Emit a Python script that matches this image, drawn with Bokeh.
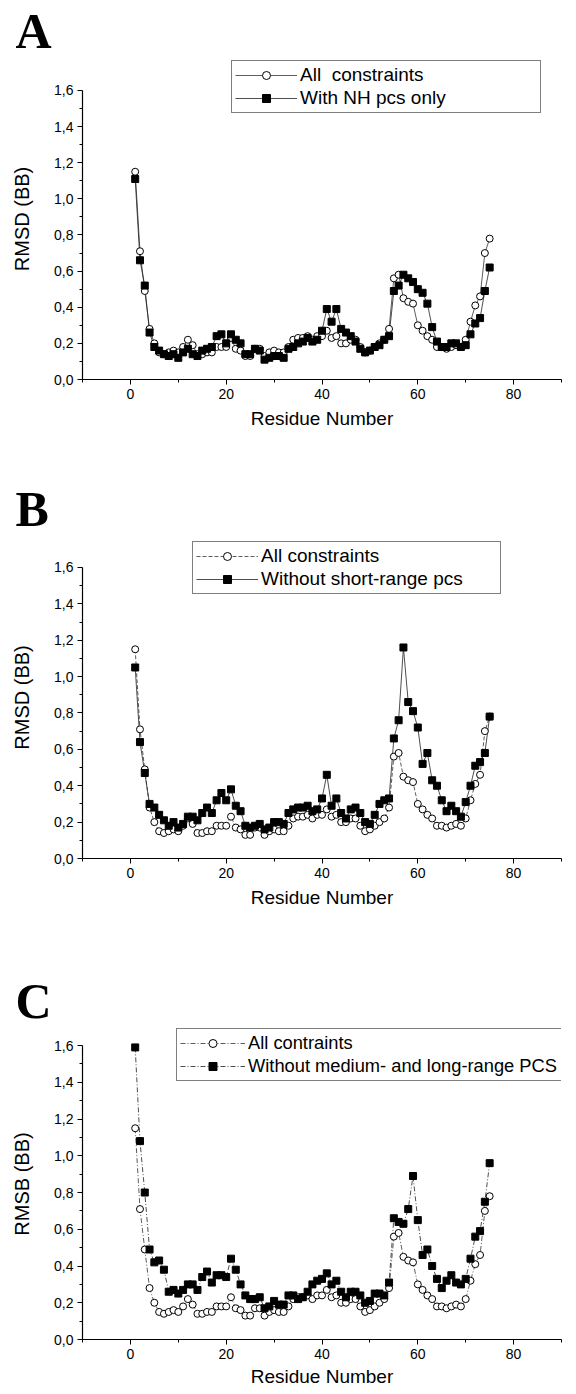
from bokeh.plotting import figure
from bokeh.models import (Range1d, FixedTicker, CustomJSTickFormatter, Legend,
                          LegendItem, Title, ColumnDataSource)
from bokeh.layouts import column
from bokeh.embed import file_html
from bokeh.resources import INLINE

# ---------------- data ----------------
residues = list(range(1, 76))

all_constraints = [
    1.15, 0.71, 0.49, 0.28, 0.20, 0.15, 0.14, 0.15, 0.16, 0.15,
    0.18, 0.22, 0.19, 0.14, 0.14, 0.15, 0.15, 0.18, 0.18, 0.18,
    0.23, 0.17, 0.16, 0.13, 0.13, 0.17, 0.17, 0.13, 0.15, 0.16,
    0.15, 0.15, 0.18, 0.22, 0.23, 0.23, 0.24, 0.22, 0.24, 0.24,
    0.27, 0.23, 0.24, 0.20, 0.20, 0.22, 0.22, 0.18, 0.15, 0.16,
    0.18, 0.20, 0.22, 0.28, 0.56, 0.58, 0.45, 0.43, 0.42, 0.30,
    0.27, 0.24, 0.22, 0.18, 0.18, 0.17, 0.18, 0.19, 0.18, 0.22,
    0.32, 0.41, 0.46, 0.70, 0.78]

nh_pcs_only = [
    1.11, 0.66, 0.52, 0.26, 0.18, 0.16, 0.14, 0.13, 0.14, 0.12,
    0.15, 0.17, 0.14, 0.13, 0.16, 0.17, 0.18, 0.24, 0.25, 0.20,
    0.25, 0.22, 0.20, 0.14, 0.14, 0.17, 0.16, 0.11, 0.12, 0.13,
    0.13, 0.12, 0.17, 0.18, 0.20, 0.21, 0.23, 0.21, 0.22, 0.27,
    0.39, 0.32, 0.39, 0.28, 0.26, 0.24, 0.21, 0.17, 0.15, 0.16,
    0.18, 0.19, 0.22, 0.24, 0.49, 0.52, 0.58, 0.56, 0.54, 0.50,
    0.48, 0.42, 0.29, 0.21, 0.18, 0.18, 0.20, 0.20, 0.18, 0.19,
    0.25, 0.31, 0.34, 0.49, 0.62]

without_short_range = [
    1.05, 0.64, 0.47, 0.30, 0.28, 0.24, 0.21, 0.18, 0.20, 0.17,
    0.19, 0.23, 0.23, 0.21, 0.25, 0.28, 0.25, 0.32, 0.36, 0.32,
    0.38, 0.29, 0.26, 0.18, 0.17, 0.18, 0.19, 0.16, 0.17, 0.20,
    0.20, 0.19, 0.25, 0.27, 0.28, 0.28, 0.29, 0.26, 0.27, 0.33,
    0.46, 0.29, 0.33, 0.25, 0.22, 0.27, 0.28, 0.25, 0.20, 0.19,
    0.24, 0.30, 0.32, 0.33, 0.66, 0.76, 1.16, 0.86, 0.81, 0.72,
    0.52, 0.58, 0.43, 0.40, 0.32, 0.26, 0.29, 0.26, 0.23, 0.31,
    0.40, 0.51, 0.53, 0.58, 0.78]

without_medium_long = [
    1.59, 1.08, 0.80, 0.49, 0.42, 0.43, 0.38, 0.26, 0.27, 0.25,
    0.27, 0.30, 0.30, 0.27, 0.34, 0.37, 0.31, 0.35, 0.35, 0.34,
    0.44, 0.38, 0.30, 0.24, 0.22, 0.22, 0.23, 0.17, 0.18, 0.21,
    0.19, 0.19, 0.24, 0.24, 0.22, 0.23, 0.26, 0.30, 0.32, 0.33,
    0.36, 0.30, 0.32, 0.26, 0.23, 0.26, 0.26, 0.24, 0.20, 0.21,
    0.25, 0.25, 0.24, 0.31, 0.66, 0.64, 0.63, 0.71, 0.89, 0.65,
    0.46, 0.49, 0.40, 0.33, 0.28, 0.32, 0.35, 0.31, 0.30, 0.33,
    0.44, 0.56, 0.59, 0.75, 0.96]

x_ticks = [0, 20, 40, 60, 80]
x_minor_ticks = [-10, 10, 30, 50, 70, 90]
y_ticks = [0.0, 0.2, 0.4, 0.6, 0.8, 1.0, 1.2, 1.4, 1.6]
y_minor_ticks = [0.1, 0.3, 0.5, 0.7, 0.9, 1.1, 1.3, 1.5]

FONT = "Liberation Sans"


def make_panel(letter, ylabel, second, labels, height, top, bottom, y_end,
               legend_pos, glyph_w, label_w, legend_font, dash1, dash2,
               xlabel_standoff):
    p = figure(width=576, height=height, x_range=Range1d(-10, 90),
               y_range=Range1d(0, y_end), output_backend="svg",
               toolbar_location=None, min_border_left=82,
               min_border_right=15, min_border_top=top,
               min_border_bottom=bottom, title=None)
    p.outline_line_color = None
    p.xgrid.grid_line_color = None
    p.ygrid.grid_line_color = None

    p.add_layout(Title(text=letter, align="left", offset=-67, standoff=0,
                       text_font="Liberation Serif", text_font_style="bold",
                       text_font_size="50px", text_color="black"), "above")

    xa = p.xaxis[0]
    ya = p.yaxis[0]
    xa.ticker = FixedTicker(ticks=x_ticks, minor_ticks=x_minor_ticks)
    ya.ticker = FixedTicker(ticks=y_ticks, minor_ticks=y_minor_ticks)
    ya.formatter = CustomJSTickFormatter(
        code="return tick.toFixed(1).replace('.', ',');")
    ya.bounds = (0, 1.6)
    for ax in (xa, ya):
        ax.major_tick_in = 0
        ax.major_tick_out = 5
        ax.minor_tick_in = 0
        ax.minor_tick_out = 3
        ax.axis_line_color = "black"
        ax.axis_line_width = 1.2
        ax.major_tick_line_color = "black"
        ax.minor_tick_line_color = "black"
        ax.major_label_text_font = FONT
        ax.major_label_text_font_size = "14px"
        ax.major_label_text_color = "black"
        ax.major_label_standoff = 4
        ax.axis_label_text_font = FONT
        ax.axis_label_text_font_style = "normal"
        ax.axis_label_text_color = "black"
    xa.axis_label = "Residue Number"
    xa.axis_label_text_font_size = "19px"
    xa.axis_label_standoff = xlabel_standoff
    ya.axis_label = ylabel
    ya.axis_label_text_font_size = "20px"
    ya.axis_label_standoff = 18

    src = ColumnDataSource(dict(x=residues, a=all_constraints, b=second))
    l1 = p.line("x", "a", source=src, line_color="#333333",
                line_width=0.8, line_dash=dash1)
    l2 = p.line("x", "b", source=src, line_color="#222222",
                line_width=0.8, line_dash=dash2)
    s1 = p.scatter("x", "a", source=src, marker="circle", size=7,
                   fill_color="white", line_color="black", line_width=1)
    s2 = p.scatter("x", "b", source=src, marker="square", size=7,
                   fill_color="black", line_color="black", line_width=1)

    leg = Legend(items=[LegendItem(label=labels[0], renderers=[l1, s1]),
                        LegendItem(label=labels[1], renderers=[l2, s2])],
                 location=legend_pos, margin=0, padding=3, spacing=1,
                 glyph_width=glyph_w, glyph_height=20, label_height=20,
                 label_width=label_w, label_standoff=3,
                 label_text_font=FONT, label_text_font_size=legend_font,
                 label_text_color="black", border_line_color="black",
                 border_line_width=1, background_fill_color="white",
                 background_fill_alpha=1.0)
    p.add_layout(leg)
    return p


pA = make_panel("A", "RMSD (BB)", nh_pcs_only,
                ["All  constraints", "With NH pcs only"],
                465, 58, 86, 1.777, (149, 266), 62, 237, "19px",
                "solid", "solid", 6)
pB = make_panel("B", "RMSD (BB)", without_short_range,
                ["All constraints", "Without short-range pcs"],
                455, 71, 62, 1.770, (110, 264), 62, 236, "19px",
                "4 2", "solid", 6)
pC = make_panel("C", "RMSB (BB)", without_medium_long,
                ["All contraints", "Without medium- and long-range PCS"],
                474, 108, 55, 1.693, (94, 258), 65, 330, "18.3px",
                "5 2 1 2", "5 2 1 2", 4)

layout = column(pA, pB, pC, spacing=0)
open("out.html", "w").write(file_html(layout, INLINE))
